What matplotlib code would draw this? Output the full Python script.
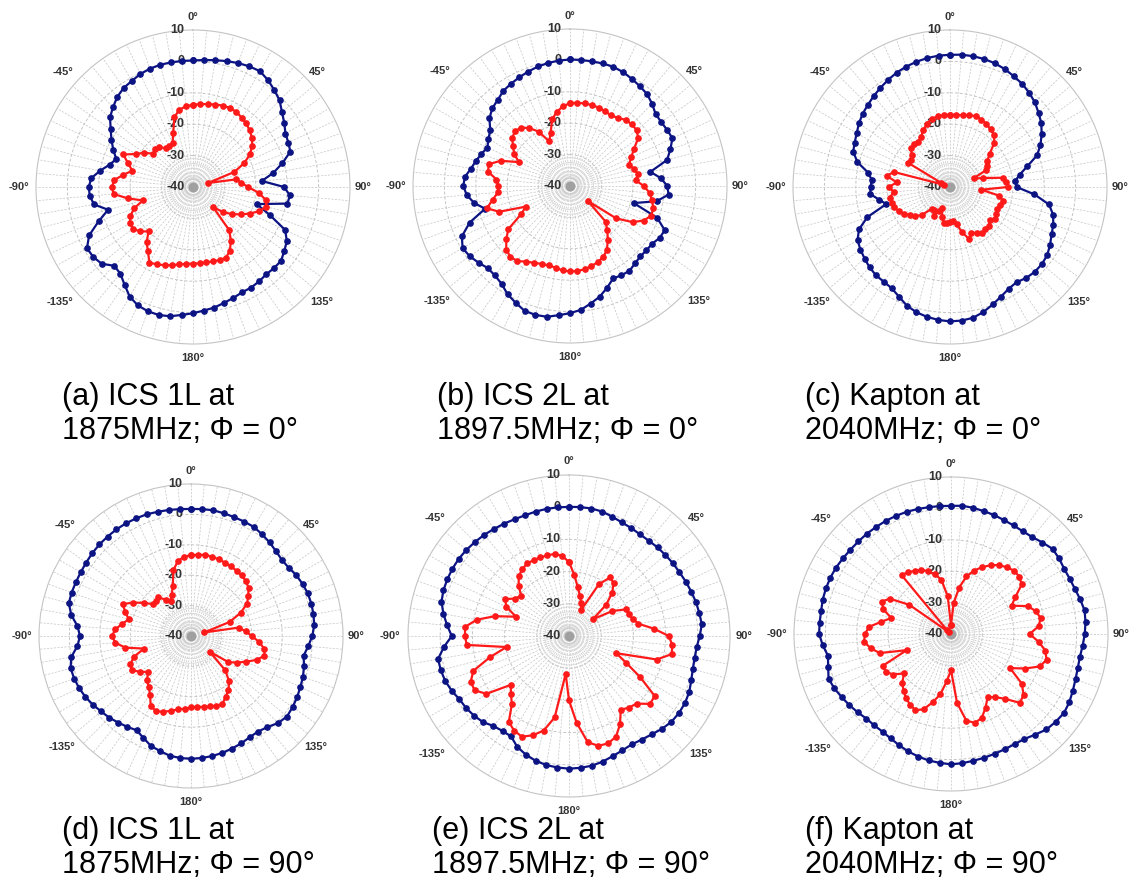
import numpy as np
import matplotlib
matplotlib.use("Agg")
import matplotlib.pyplot as plt

plt.rcParams["font.family"] = ["Liberation Sans", "DejaVu Sans"]

# ---- measured gain (dB) every 5 deg, 0..355, clockwise from top ----
ANGLES = list(range(0, 360, 5))

a_blue = [0.3, 0.6, 1.0, 1.5, 2.0, 2.4, 2.6, 1.6, 0.3, -1.0, -3.0, -4.5, -6.0, -6.5, -7.0, -10.5,
          -14, -18, -11, -9, -9.5, -19, -14, -7.6, -5.5, -4.5, -3.4, -3.5, -3.7, -3.3, -3.0, -3.0,
          -2.4, -1.8, -1.0, -0.5, 0.2, 0.9, 1.8, 2.2, 2.1, 1.6, 0.3, -2, -4, -4.5, -2.0, -1.2,
          -1.0, -3.5, -8, -12, -8, -7, -6.8, -7.5, -10, -12.5, -14, -12, -10, -8, -5.5, -4,
          -2.5, -1.5, -1.0, -0.3, 0.1, 0.3, 0.3, 0.3]
a_red = [-13.8, -13.5, -13.2, -12.8, -12.4, -12.2, -12.4, -13.0, -13.6, -14.5, -15.5, -17.0,
         -19.0, -22.0, -26.0, -35.0, -26.0, -24.5, -22.5, -19.0, -16.5, -15.8, -17.5, -20.0,
         -22.5, -25.0, -27.5, -31.0, -22.0, -19.0, -16.5, -15.2, -15.2, -15.5, -15.6, -15.6,
         -15.6, -15.4, -15.0, -14.2, -13.5, -12.8, -12.2, -15.0, -17.0, -20.0, -18.0, -16.7,
         -16.8, -18.0, -20.0, -23.5, -19.0, -14.6, -14.2, -14.8, -17.5, -20.0, -18.0, -15.5,
         -19.0, -21.0, -23.5, -23.0, -23.4, -25.0, -25.0, -24.6, -21.6, -17.0, -15.0, -14.2]

b_blue = [0.3, 0.3, 0.3, 0.4, 0.4, 0.0, -0.6, -1.2, -1.8, -3.0, -4.4, -4.5, -4.3, -4.0, -6.0,
          -8.0, -14.0, -11.0, -9.0, -8.5, -12.0, -19.0, -10.5, -6.7, -7.0, -8.0, -8.2, -8.3,
          -7.8, -7.0, -7.2, -7.5, -5.5, -3.5, -2.0, -0.4, 0.5, 1.3, 2.3, 2.5, 2.3, 1.0, -0.2,
          -2.0, -2.8, -3.0, -2.0, -1.0, -0.5, -2.0, -6.0, -12.0, -9.0, -7.0, -6.0, -6.4, -8.0,
          -9.0, -10.0, -11.0, -10.0, -9.0, -6.5, -5.0, -4.2, -3.0, -2.4, -1.8, -1.2, -0.6,
          -0.2, 0.1]
b_red = [-13.6, -13.4, -13.3, -13.3, -13.4, -13.7, -14.0, -13.5, -12.5, -12.2, -12.3, -13.5,
         -16.5, -18.5, -20.0, -19.0, -18.0, -19.0, -16.5, -14.5, -13.5, -12.5, -12.5, -14.0,
         -17.0, -22.0, -32.5, -24.0, -21.5, -19.0, -16.5, -15.0, -14.2, -13.6, -13.1, -12.8,
         -12.8, -13.0, -13.6, -13.8, -13.6, -13.0, -12.2, -10.8, -10.5, -11.3, -13.5, -16.0,
         -22.0, -24.5, -16.0, -12.6, -15.0, -17.0, -17.2, -16.5, -13.5, -13.2, -16.5, -22.0,
         -19.5, -17.8, -16.0, -15.3, -15.7, -17.5, -20.0, -24.3, -22.0, -18.0, -16.0, -14.5]

c_blue = [2.1, 2.3, 2.3, 2.2, 1.9, 1.4, 0.7, 0.1, -0.8, -1.8, -3.2, -4.5, -6.3, -8.2, -10.5,
          -14.5, -17.5, -19.2, -18.8, -13, -8, -6, -5, -4.3, -3.2, -2.2, -1.8, -1.8, -2.2, -3.0,
          -2.6, -1.5, -0.2, 1.2, 2.3, 2.7, 2.8, 2.5, 2.0, 1.3, 0.2, -1.5, -2.8, -3.2, -3.3,
          -3.8, -4.5, -5.2, -6, -8, -12, -19, -17, -14.5, -14.7, -15, -13.5, -9.5, -7.2, -6.5,
          -5.7, -4.6, -3.7, -3.0, -2.2, -1.4, -0.6, 0.2, 0.8, 1.3, 1.7, 2.0]
c_red = [-17, -17, -16.8, -16.3, -16.0, -16.3, -16.8, -17.5, -18.3, -20.0, -23.5, -25.5, -26.5,
         -27.5, -32, -29, -23, -22, -21.5, -30, -24, -22.5, -23, -23.5, -23, -22.5, -23.5, -22.5,
         -22.5, -22, -23, -24, -22.5, -25, -28.0, -29, -28.7, -28.5, -28.4, -30, -33, -31.5,
         -29.5, -31, -31, -27.5, -25.5, -24.5, -23.0, -22.0, -21.0, -20.8, -20.5, -22.0, -20.5,
         -23, -19.5, -21.5, -38, -37, -24.5, -25, -24, -22.5, -22, -22.5, -21.5, -20.0, -18.5,
         -17.5, -17.2, -17.0]

d_blue = [1.8, 1.9, 2.0, 1.8, 1.6, 1.5, 1.4, 0.8, 0.2, -0.5, -1.0, -0.8, 0.0, 0.5, 0.9, 1.0,
          0.9, 0.7, -0.1, -1.3, -2.4, -1.5, -0.8, -0.3, 0.3, 0.8, 1.2, 0.5, -0.9, -1.6, -1.5,
          -1.0, -0.6, -0.2, 0.1, 0.3, 0.4, 0.3, 0.0, -0.8, -1.5, -3.0, -4.2, -3.5, -2.8, -2.0,
          -1.4, -0.6, 0.1, 0.6, 0.9, 1.0, 0.0, -2.5, -3.5, -2.5, 0.0, 1.6, 1.8, 1.8, 1.9, 2.1,
          2.4, 2.6, 2.7, 2.8, 2.8, 2.7, 2.6, 2.3, 2.1, 1.9]
d_red = [-13.4, -13.2, -12.9, -13.0, -13.2, -13.4, -13.6, -13.8, -14.0, -14.5, -15.3, -17.0,
         -18.7, -22.0, -26.5, -35.5, -24.0, -22.0, -20.0, -17.5, -15.5, -15.0, -17.0, -20.0,
         -22.5, -25.0, -32.0, -24.0, -20.5, -18.5, -17.0, -15.5, -15.5, -16.0, -16.3, -16.6,
         -16.5, -16.0, -15.5, -14.5, -13.5, -12.7, -13.5, -16.5, -18.3, -19.5, -21.6, -19.5,
         -17.5, -18.0, -20.0, -24.0, -18.0, -15.0, -14.0, -15.0, -17.0, -18.8, -17.0, -15.2,
         -18.0, -21.0, -23.7, -23.5, -23.3, -25.5, -26.7, -25.0, -22.5, -17.6, -15.0, -13.8]

e_blue = [0.1, 0.2, 0.2, 0.0, -0.6, -1.1, -1.3, -1.5, -1.4, -1.1, -0.9, -0.6, -0.4, 0.0, 0.4,
          0.8, 1.1, 1.4, 0.6, -0.2, -0.4, -0.2, 0.4, 1.2, 1.6, 1.7, 1.5, 0.8, -0.1, -0.7, -1.1,
          -0.8, -0.3, 0.4, 0.9, 1.1, 1.2, 1.0, 0.7, 0.1, -0.8, -2.0, -4.0, -4.0, -3.5, -2.2,
          -1.5, -1.0, -0.7, 0.2, 0.9, 1.2, 1.3, -1.0, -3.6, -2.0, -0.4, 1.0, 1.5, 1.7, 1.8,
          1.8, 1.6, 1.3, 1.0, 0.6, 0.3, 0.0, -0.1, 0.0, 0.1, 0.1]
e_red = [-17, -21, -24.5, -27, -29, -31, -21.5, -17.8, -18.5, -21, -25, -31, -24.5, -20.4,
         -20.3, -19.5, -18.1, -13.6, -9.0, -7.8, -7.6, -11.8, -24.4, -20.5, -14.5, -7.5, -7.2,
         -10.3, -11.0, -12.0, -8.3, -5.5, -4.5, -4.7, -6.5, -13.0, -20.0, -28.2, -14.3, -9.6,
         -7.2, -5.5, -6.0, -7.4, -12.4, -14.5, -16.4, -8.7, -6.2, -6.3, -8.4, -14.6, -20.3,
         -8.1, -7.7, -7.6, -10.9, -16.2, -22.5, -18.5, -17.1, -19.7, -20.6, -17.9, -15.7,
         -14.7, -14.0, -14.0, -14.0, -14.1, -14.1, -15.0]

f_blue = [0.8, 1.0, 0.8, 0.5, 0.3, 0.0, -0.1, -0.1, 0.3, 1.2, 2.2, 2.0, 1.6, 1.7, 2.0, 2.6,
          3.2, 3.0, 2.6, 2.1, 1.7, 1.8, 2.2, 2.8, 3.5, 3.9, 3.5, 3.0, 1.8, 0.8, 0.5, 0.5, 0.6,
          0.8, 1.0, 1.3, 1.5, 1.2, 0.9, 0.4, -0.2, -0.9, -1.6, -2.0, -2.0, -1.9, -1.2, -0.5,
          0.2, 1.0, 1.5, 0.5, -0.2, 1.0, 2.0, 2.0, 2.0, 2.3, 2.4, 2.4, 2.3, 2.0, 1.8, 1.7, 1.7,
          1.6, 1.6, 1.5, 1.4, 1.2, 1.0, 0.9]
f_red = [-37, -30, -25, -21, -18.5, -16.5, -14.7, -13.2, -12.3, -11.5, -11.6, -12.5, -16.3,
         -18.7, -14, -12, -11, -12, -15, -12, -9.5, -8.5, -9.8, -14, -18.3, -12.5, -9.8, -9.0,
         -13.0, -15.5, -16.7, -14.0, -11.5, -10.7, -12.0, -18.0, -28.5, -25, -20.5, -17.5,
         -14.5, -13.2, -14.0, -15.0, -16.5, -18.0, -20.5, -17.5, -16.0, -16.0, -25.0, -16.5,
         -14.0, -12.2, -12.6, -13.8, -17.5, -20.3, -17.1, -15.6, -17.5, -23.8, -39, -38,
         -15.5, -16.0, -16.8, -17.5, -18.7, -20.3, -22.5, -28]

CAPTIONS = [
    ("(a) ICS 1L at", "1875MHz; \u03a6 = 0\u00b0"),
    ("(b) ICS 2L at", "1897.5MHz; \u03a6 = 0\u00b0"),
    ("(c) Kapton at", "2040MHz; \u03a6 = 0\u00b0"),
    ("(d) ICS 1L at", "1875MHz; \u03a6 = 90\u00b0"),
    ("(e) ICS 2L at", "1897.5MHz; \u03a6 = 90\u00b0"),
    ("(f) Kapton at", "2040MHz; \u03a6 = 90\u00b0"),
]
ANGLE_LABELS = ["0\u00b0", "45\u00b0", "90\u00b0", "135\u00b0", "180\u00b0",
                "-135\u00b0", "-90\u00b0", "-45\u00b0"]
# label offsets from the centre, as a fraction of the plot radius
ANGLE_POS = [(0, 1.085), (0.79, 0.73), (1.085, 0), (0.82, -0.73), (0, -1.09),
             (-0.85, -0.73), (-1.11, 0), (-0.83, 0.73)]
R_TICKS = [10, 0, -10, -20, -30, -40]

W, H = 1137, 885
# panel centre x, y and outer radius in pixels; caption left x, line-1 y, line-2 y
PANELS = [
    (193, 187, 157, 62, 397, 431),
    (570, 186, 157, 437, 397, 431),
    (950, 187, 157, 805, 397, 431),
    (191, 636, 152, 62, 831, 865),
    (569, 636, 161, 432, 831, 865),
    (951, 634, 157, 805, 831, 865),
]
SERIES = [(a_blue, a_red), (b_blue, b_red), (c_blue, c_red),
          (d_blue, d_red), (e_blue, e_red), (f_blue, f_red)]

BLUE = "#0c1484"
RED = "#ff1a1a"
GRID = "#c4c4c4"

fig = plt.figure(figsize=(W / 100, H / 100), dpi=100)
fig.patch.set_facecolor("white")

th = np.deg2rad(ANGLES + [360])
full = np.linspace(0, 2 * np.pi, 361)
for (cx, cy, r, tx, ty1, ty2), (blue, red), (cap1, cap2) in zip(PANELS, SERIES, CAPTIONS):
    ax = fig.add_axes([(cx - r) / W, 1 - (cy + r) / H, 2 * r / W, 2 * r / H], projection="polar")
    ax.set_theta_zero_location("N")
    ax.set_theta_direction(-1)
    ax.set_ylim(-40, 10)
    ax.grid(False)
    ax.set_xticks([])
    ax.set_yticks([])
    ax.spines["polar"].set_color(GRID)
    ax.spines["polar"].set_linewidth(0.8)

    for a in ANGLES:
        ax.plot([np.deg2rad(a)] * 2, [-40, 10], color=GRID, lw=0.5, ls=(0, (3, 2)), zorder=1)
    for rv in [-30, -20, -10, 0]:
        ax.plot(full, [rv] * 361, color=GRID, lw=0.7, ls=(0, (3, 2)), zorder=1)
    for rv in [-38.5, -37, -35.5, -34, -32.5, -31]:
        ax.plot(full, [rv] * 361, color="#d8d8d8", lw=0.6, zorder=1)
    ax.plot([0], [-40], "o", color="#a0a0a0", ms=6, zorder=2)

    for v in R_TICKS:
        ax.annotate(str(v), xy=(0, v), xytext=(-6, 0), textcoords="offset points",
                    ha="right", va="center", fontsize=9, fontweight="bold",
                    color="#333333", zorder=3)
    for (px, py), lab in zip(ANGLE_POS, ANGLE_LABELS):
        ax.text(0.5 + 0.5 * px, 0.5 + 0.5 * py, lab, transform=ax.transAxes,
                ha="center", va="center", fontsize=8, fontweight="bold",
                color="#333333", clip_on=False)

    ax.plot(th, blue + blue[:1], color=BLUE, lw=1.6, marker="o", ms=3.8, zorder=5)
    ax.plot(th, red + red[:1], color=RED, lw=1.6, marker="o", ms=3.8, zorder=6)

    fig.text(tx / W, 1 - ty1 / H, cap1, fontsize=22, ha="left", va="center")
    fig.text(tx / W, 1 - ty2 / H, cap2, fontsize=22, ha="left", va="center")

fig.savefig("out.png", dpi=100, facecolor="white")
